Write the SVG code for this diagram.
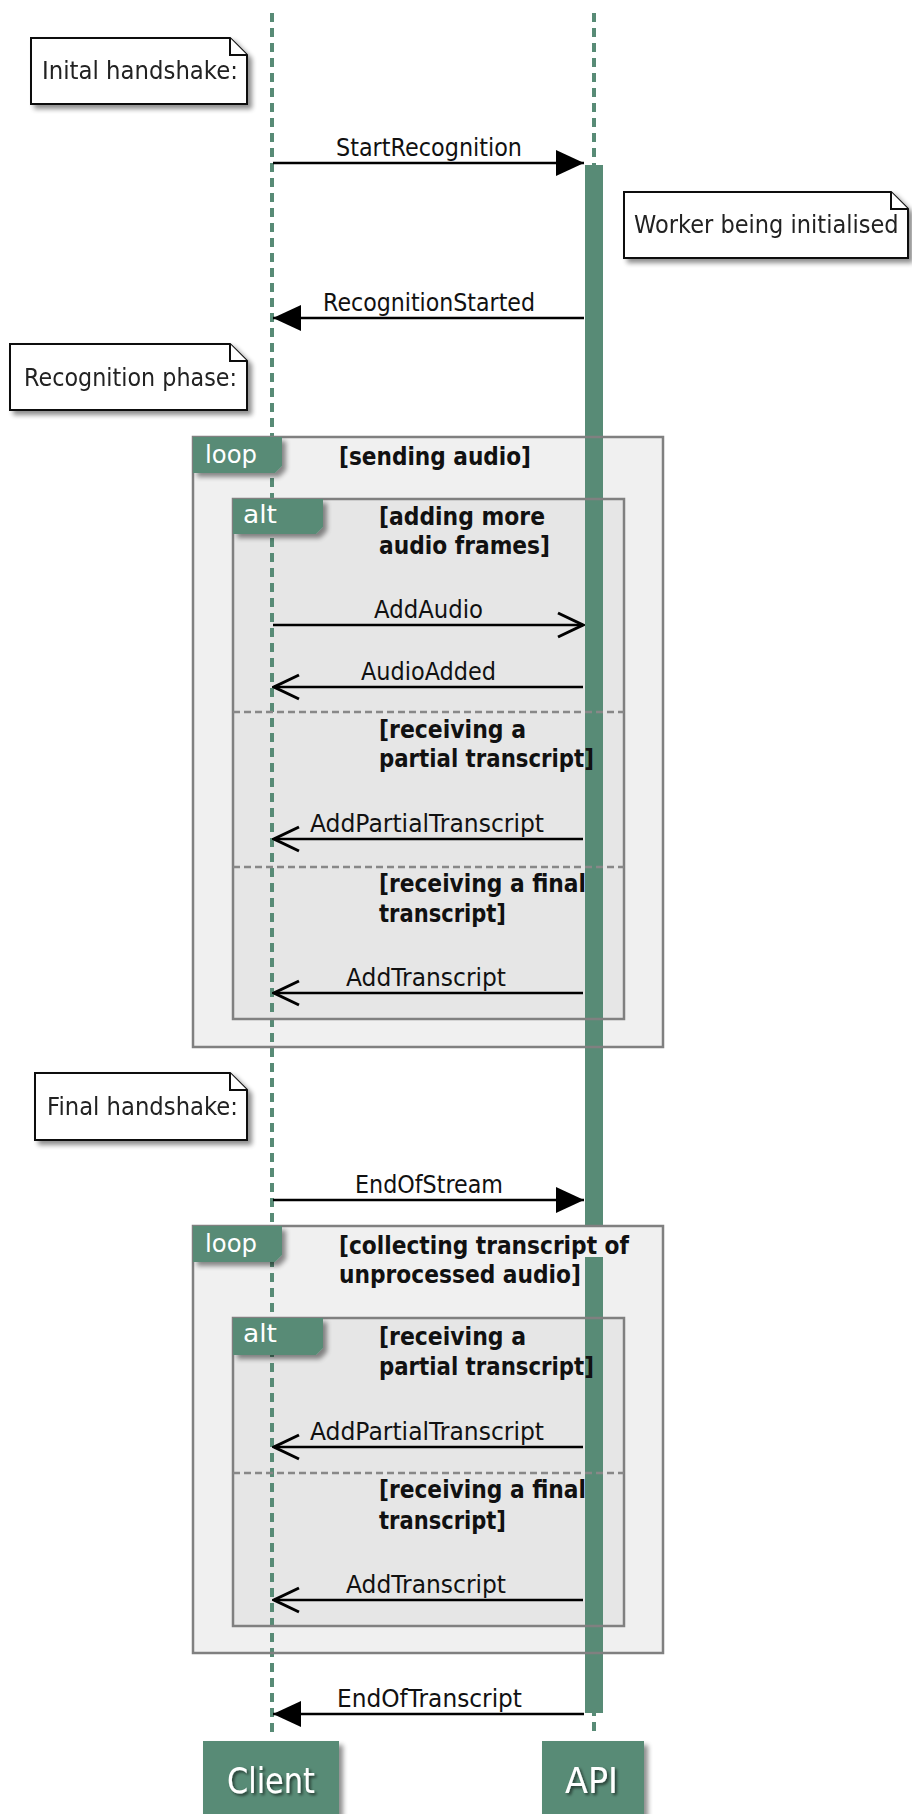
<svg xmlns="http://www.w3.org/2000/svg" width="912" height="1814" viewBox="0 0 912 1814">
<defs>
<filter id="sh" x="-10%" y="-10%" width="130%" height="140%">
<feGaussianBlur in="SourceAlpha" stdDeviation="2.5"/>
<feOffset dx="4" dy="4" result="b"/>
<feComponentTransfer><feFuncA type="linear" slope="0.45"/></feComponentTransfer>
<feMerge><feMergeNode/><feMergeNode in="SourceGraphic"/></feMerge>
</filter>
<filter id="tsh" x="-10%" y="-20%" width="130%" height="150%">
<feGaussianBlur in="SourceAlpha" stdDeviation="1.5"/>
<feOffset dx="2" dy="2" result="b"/>
<feComponentTransfer><feFuncA type="linear" slope="0.6"/></feComponentTransfer>
<feMerge><feMergeNode/><feMergeNode in="SourceGraphic"/></feMerge>
</filter>
<marker id="fill" markerWidth="28" markerHeight="26" refX="28" refY="13" orient="auto" markerUnits="userSpaceOnUse">
<path d="M0,0 L28,13 L0,26 Z" fill="#000"/>
</marker>
<marker id="open" markerWidth="30" markerHeight="30" refX="28" refY="15" orient="auto" markerUnits="userSpaceOnUse">
<path d="M3,3 L28,15 L3,27" fill="none" stroke="#000" stroke-width="3"/>
</marker>
</defs>
<style>
text{font-family:"DejaVu Sans","Liberation Sans",sans-serif;}
.note{fill:#fff;stroke:#111;stroke-width:2;}
.nt{font-size:25px;fill:#222;}
.ml{font-size:24px;fill:#111;}
.gd{font-size:24px;font-weight:bold;fill:#111;}
.tg{font-size:25px;fill:#fff;}
.life{stroke:#588b76;stroke-width:4;stroke-dasharray:9,6;fill:none;}
.bar{fill:#588b76;}
.loopf{fill:#f0f0f0;}
.altf{fill:#e6e6e6;}
.frm{fill:none;stroke:#808080;stroke-width:2.5;}
.tag{fill:#588b76;}
.sep{stroke:#888;stroke-width:2.5;stroke-dasharray:7,4;}
.msg{stroke:#000;stroke-width:2.5;fill:none;}
.part{fill:#588b76;}
.pt{font-size:35px;fill:#fff;}
</style>

<!-- fragment fills -->
<g id="frame-fills">
<rect class="loopf" x="193" y="437" width="470" height="610"/>
<rect class="altf" x="233" y="499" width="391" height="520"/>
<rect class="loopf" x="193" y="1226" width="470" height="427"/>
<rect class="altf" x="233" y="1318" width="391" height="308"/>
</g>

<!-- lifelines -->
<g id="lifelines">
<line class="life" x1="272" y1="13" x2="272" y2="1737"/>
<line class="life" x1="594" y1="13" x2="594" y2="1226"/>
<line class="life" x1="594" y1="1257" x2="594" y2="1737"/>
</g>

<!-- activation -->
<g id="activation">
<rect class="bar" x="585" y="165" width="18" height="1061"/>
<rect class="bar" x="585" y="1257" width="18" height="456"/>
</g>

<!-- fragments -->
<g id="loop1">
<rect class="frm" x="193" y="437" width="470" height="610"/>
<path class="tag" filter="url(#sh)" d="M193,437 H282 V466 L275,473 H193 Z"/>
<text class="tg" x="205" y="463" textLength="52" lengthAdjust="spacingAndGlyphs">loop</text>
<text class="gd" x="339" y="465" textLength="192" lengthAdjust="spacingAndGlyphs">[sending audio]</text>
</g>
<g id="alt1">
<rect class="frm" x="233" y="499" width="391" height="520"/>
<path class="tag" filter="url(#sh)" d="M233,499 H323 V527 L316,534 H233 Z"/>
<text class="tg" x="243" y="523" textLength="34" lengthAdjust="spacingAndGlyphs">alt</text>
<text class="gd" x="379" y="525" textLength="166" lengthAdjust="spacingAndGlyphs">[adding more</text>
<text class="gd" x="379" y="554" textLength="171" lengthAdjust="spacingAndGlyphs">audio frames]</text>
<line class="sep" x1="233" y1="712" x2="624" y2="712"/>
<text class="gd" x="379" y="738" textLength="147" lengthAdjust="spacingAndGlyphs">[receiving a</text>
<text class="gd" x="379" y="767" textLength="215" lengthAdjust="spacingAndGlyphs">partial transcript]</text>
<line class="sep" x1="233" y1="867" x2="624" y2="867"/>
<text class="gd" x="379" y="892" textLength="207" lengthAdjust="spacingAndGlyphs">[receiving a final</text>
<text class="gd" x="379" y="922" textLength="127" lengthAdjust="spacingAndGlyphs">transcript]</text>
</g>
<g id="loop2">
<rect class="frm" x="193" y="1226" width="470" height="427"/>
<path class="tag" filter="url(#sh)" d="M193,1226 H282 V1255 L275,1262 H193 Z"/>
<text class="tg" x="205" y="1252" textLength="52" lengthAdjust="spacingAndGlyphs">loop</text>
<text class="gd" x="339" y="1254" textLength="290" lengthAdjust="spacingAndGlyphs">[collecting transcript of</text>
<text class="gd" x="339" y="1283" textLength="242" lengthAdjust="spacingAndGlyphs">unprocessed audio]</text>
</g>
<g id="alt2">
<rect class="frm" x="233" y="1318" width="391" height="308"/>
<path class="tag" filter="url(#sh)" d="M233,1318 H323 V1348 L316,1355 H233 Z"/>
<text class="tg" x="243" y="1342" textLength="34" lengthAdjust="spacingAndGlyphs">alt</text>
<text class="gd" x="379" y="1345" textLength="147" lengthAdjust="spacingAndGlyphs">[receiving a</text>
<text class="gd" x="379" y="1375" textLength="215" lengthAdjust="spacingAndGlyphs">partial transcript]</text>
<line class="sep" x1="233" y1="1473" x2="624" y2="1473"/>
<text class="gd" x="379" y="1498" textLength="207" lengthAdjust="spacingAndGlyphs">[receiving a final</text>
<text class="gd" x="379" y="1529" textLength="127" lengthAdjust="spacingAndGlyphs">transcript]</text>
</g>

<!-- notes -->
<g id="note-initial" filter="url(#sh)">
<path class="note" d="M31,38 H230 L247,55 V104 H31 Z"/>
<path class="note" d="M230,38 V55 H247"/>
<text class="nt" x="42" y="79" textLength="196" lengthAdjust="spacingAndGlyphs">Inital handshake:</text>
</g>
<g id="note-worker" filter="url(#sh)">
<path class="note" d="M624,192 H891 L908,209 V258 H624 Z"/>
<path class="note" d="M891,192 V209 H908"/>
<text class="nt" transform="translate(634,233) scale(0.9,1)" x="0" y="0" textLength="294" lengthAdjust="spacingAndGlyphs">Worker being initialised</text>
</g>
<g id="note-recognition" filter="url(#sh)">
<path class="note" d="M10,344 H230 L247,361 V410 H10 Z"/>
<path class="note" d="M230,344 V361 H247"/>
<text class="nt" x="24" y="386" textLength="213" lengthAdjust="spacingAndGlyphs">Recognition phase:</text>
</g>
<g id="note-final" filter="url(#sh)">
<path class="note" d="M35,1073 H230 L247,1090 V1140 H35 Z"/>
<path class="note" d="M230,1073 V1090 H247"/>
<text class="nt" x="47" y="1115" textLength="191" lengthAdjust="spacingAndGlyphs">Final handshake:</text>
</g>

<!-- connectors -->
<g id="messages">
<line class="msg" x1="273" y1="163" x2="584" y2="163" marker-end="url(#fill)"/>
<text class="ml" x="336" y="156" textLength="186" lengthAdjust="spacingAndGlyphs">StartRecognition</text>
<line class="msg" x1="584" y1="318" x2="273" y2="318" marker-end="url(#fill)"/>
<text class="ml" x="323" y="311" textLength="212" lengthAdjust="spacingAndGlyphs">RecognitionStarted</text>
<line class="msg" x1="273" y1="625" x2="583" y2="625" marker-end="url(#open)"/>
<text class="ml" x="374" y="618" textLength="109" lengthAdjust="spacingAndGlyphs">AddAudio</text>
<line class="msg" x1="583" y1="687" x2="274" y2="687" marker-end="url(#open)"/>
<text class="ml" x="361" y="680" textLength="135" lengthAdjust="spacingAndGlyphs">AudioAdded</text>
<line class="msg" x1="583" y1="839" x2="274" y2="839" marker-end="url(#open)"/>
<text class="ml" x="310" y="832" textLength="234" lengthAdjust="spacingAndGlyphs">AddPartialTranscript</text>
<line class="msg" x1="583" y1="993" x2="274" y2="993" marker-end="url(#open)"/>
<text class="ml" x="346" y="986" textLength="160" lengthAdjust="spacingAndGlyphs">AddTranscript</text>
<line class="msg" x1="273" y1="1200" x2="584" y2="1200" marker-end="url(#fill)"/>
<text class="ml" x="355" y="1193" textLength="148" lengthAdjust="spacingAndGlyphs">EndOfStream</text>
<line class="msg" x1="583" y1="1447" x2="274" y2="1447" marker-end="url(#open)"/>
<text class="ml" x="310" y="1440" textLength="234" lengthAdjust="spacingAndGlyphs">AddPartialTranscript</text>
<line class="msg" x1="583" y1="1600" x2="274" y2="1600" marker-end="url(#open)"/>
<text class="ml" x="346" y="1593" textLength="160" lengthAdjust="spacingAndGlyphs">AddTranscript</text>
<line class="msg" x1="584" y1="1714" x2="273" y2="1714" marker-end="url(#fill)"/>
<text class="ml" x="337" y="1707" textLength="185" lengthAdjust="spacingAndGlyphs">EndOfTranscript</text>
</g>

<!-- participants -->
<g id="client">
<rect class="part" x="203" y="1741" width="136" height="80" filter="url(#sh)"/>
<text class="pt" x="227" y="1793" textLength="88" lengthAdjust="spacingAndGlyphs" filter="url(#tsh)">Client</text>
</g>
<g id="api">
<rect class="part" x="542" y="1741" width="102" height="80" filter="url(#sh)"/>
<text class="pt" x="565" y="1793" textLength="53" lengthAdjust="spacingAndGlyphs" filter="url(#tsh)">API</text>
</g>
</svg>
